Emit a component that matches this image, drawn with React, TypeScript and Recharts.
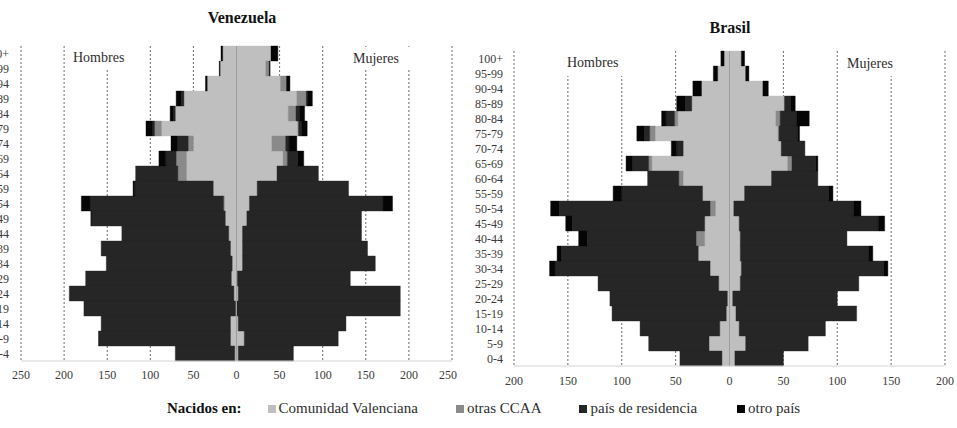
import React from 'react';
import { BarChart, Bar, XAxis, YAxis, CartesianGrid, ReferenceLine } from 'recharts';

// --- Pirámides de población: Venezuela y Brasil ---

const EDADES = ['100+', '95-99', '90-94', '85-89', '80-84', '75-79', '70-74', '65-69', '60-64', '55-59', '50-54',
  '45-49', '40-44', '35-39', '30-34', '25-29', '20-24', '15-19', '10-14', '5-9', '0-4'];

// Venezuela - hombres
const VE_H_CV = [16, 19, 34, 61, 71, 87, 50, 58, 58, 27, 14, 13, 9, 7, 5, 6, 3, 1, 7, 7, 2];
const VE_H_CCAA = [0, 0, 0, 0, 0, 8, 6, 12, 10, 0, 1, 0, 0, 0, 0, 0, 0, 0, 0, 0, 0];
const VE_H_RES = [0, 0, 0, 3, 2, 3, 13, 12, 49, 91, 155, 155, 124, 150, 146, 169, 191, 176, 150, 152, 69];
const VE_H_OTRO = [2, 1, 2, 6, 4, 7, 7, 8, 0, 2, 10, 1, 0, 0, 0, 0, 0, 0, 0, 1, 0];
// Venezuela - mujeres
const VE_M_CV = [40, 34, 51, 70, 60, 71, 41, 54, 47, 24, 15, 12, 7, 7, 7, 1, 2, 0, 2, 9, 2];
const VE_M_CCAA = [0, 4, 7, 11, 9, 1, 16, 5, 0, 0, 0, 0, 0, 0, 0, 0, 0, 0, 0, 0, 0];
const VE_M_RES = [0, 0, 0, 1, 4, 4, 4, 12, 48, 106, 155, 133, 138, 145, 154, 131, 188, 190, 125, 109, 64];
const VE_M_OTRO = [8, 1, 4, 6, 6, 6, 9, 7, 0, 0, 11, 0, 0, 0, 0, 0, 0, 0, 0, 0, 0];

// Brasil - hombres
const BR_H_CV = [5, 11, 26, 35, 48, 69, 43, 72, 43, 25, 13, 23, 23, 29, 18, 10, 2, 3, 9, 19, 7];
const BR_H_CCAA = [0, 0, 0, 0, 3, 5, 0, 3, 4, 0, 5, 0, 8, 0, 0, 0, 0, 0, 0, 0, 0];
const BR_H_RES = [0, 0, 0, 6, 8, 5, 6, 15, 29, 75, 140, 123, 101, 127, 144, 112, 109, 106, 74, 56, 39];
const BR_H_OTRO = [3, 4, 8, 8, 4, 7, 5, 6, 0, 8, 8, 6, 8, 4, 5, 0, 0, 0, 0, 0, 0];
// Brasil - mujeres
const BR_M_CV = [11, 15, 31, 51, 43, 45, 48, 54, 39, 14, 4, 9, 10, 10, 11, 10, 3, 6, 9, 15, 5];
const BR_M_CCAA = [0, 0, 0, 0, 4, 1, 0, 4, 0, 0, 0, 0, 0, 0, 0, 0, 0, 0, 0, 0, 0];
const BR_M_RES = [0, 0, 0, 6, 15, 17, 22, 22, 43, 78, 111, 129, 99, 119, 132, 110, 97, 112, 80, 58, 45];
const BR_M_OTRO = [3, 3, 5, 4, 12, 2, 0, 2, 0, 4, 7, 6, 0, 4, 4, 0, 0, 0, 0, 0, 0];

const TICKS_VE = [-250, -200, -150, -100, -50, 0, 50, 100, 150, 200, 250];
const TICKS_BR = [-200, -150, -100, -50, 0, 50, 100, 150, 200];

const COLORES = { cv: '#bfbfbf', ccaa: '#8a8a8a', res: '#262626', otro: '#050505' };
const SERIES = [
  { key: 'cv', nombre: 'Comunidad Valenciana' },
  { key: 'ccaa', nombre: 'otras CCAA' },
  { key: 'res', nombre: 'país de residencia' },
  { key: 'otro', nombre: 'otro país' },
];

const FUENTE = '"Liberation Serif", "Times New Roman", serif';

function armar(h: number[][], m: number[][]) {
  return EDADES.map((edad, i) => ({
    edad,
    h_cv: -h[0][i], h_ccaa: -h[1][i], h_res: -h[2][i], h_otro: -h[3][i],
    m_cv: m[0][i], m_ccaa: m[1][i], m_res: m[2][i], m_otro: m[3][i],
  }));
}

const datosVE = armar([VE_H_CV, VE_H_CCAA, VE_H_RES, VE_H_OTRO], [VE_M_CV, VE_M_CCAA, VE_M_RES, VE_M_OTRO]);
const datosBR = armar([BR_H_CV, BR_H_CCAA, BR_H_RES, BR_H_OTRO], [BR_M_CV, BR_M_CCAA, BR_M_RES, BR_M_OTRO]);

interface PropsPiramide {
  datos: any[]; ticks: number[]; width: number; height: number;
  margin: { top: number; right: number; left: number; bottom: number };
  anchoY: number; margenY: number; margenX: number;
}

function Piramide({ datos, ticks, width, height, margin, anchoY, margenY, margenX }: PropsPiramide) {
  const lim = ticks[ticks.length - 1];
  const color = (k: string) => COLORES[k as keyof typeof COLORES];
  return (
    <BarChart width={width} height={height} data={datos} layout="vertical" stackOffset="sign"
      barCategoryGap={0} margin={margin} style={{ fontFamily: FUENTE }}>
      <CartesianGrid horizontal={false} stroke="#6a6a6a" strokeDasharray="2 2" />
      <XAxis type="number" domain={[-lim, lim]} ticks={ticks} tickFormatter={(v: number) => String(Math.abs(v))}
        tickLine={false} tickSize={0} tickMargin={margenX} height={33}
        axisLine={{ stroke: '#d4d4d4' }} tick={{ fontSize: 12, fill: '#3a3a3a', fontFamily: FUENTE }} />
      <YAxis type="category" dataKey="edad" width={anchoY} axisLine={false} tickLine={false} tickSize={0}
        tickMargin={margenY} interval={0} tick={{ fontSize: 12, fill: '#3a3a3a', fontFamily: FUENTE }} />
      {SERIES.map(s => (
        <Bar key={'h' + s.key} dataKey={'h_' + s.key} stackId="p" fill={color(s.key)}
          stroke={color(s.key)} strokeWidth={0.4} isAnimationActive={false} />
      ))}
      {SERIES.map(s => (
        <Bar key={'m' + s.key} dataKey={'m_' + s.key} stackId="p" fill={color(s.key)}
          stroke={color(s.key)} strokeWidth={0.4} isAnimationActive={false} />
      ))}
      <ReferenceLine x={0} stroke="#9c9c9c" strokeWidth={1} />
    </BarChart>
  );
}

// caja blanca con texto que tapa las líneas de la rejilla
const etiqueta = (left: number, top: number, w: number, h: number, pad: number, texto: string) => (
  <div style={{
    position: 'absolute', left, top, width: w, height: h, background: '#fff', fontSize: 14,
    color: '#2e2e2e', display: 'flex', alignItems: 'center', paddingLeft: pad, boxSizing: 'border-box',
    fontFamily: FUENTE,
  }}>{texto}</div>
);

export default function App() {
  return (
    <div style={{
      position: 'absolute', left: 0, top: 0, width: 957, height: 428, overflow: 'hidden',
      background: '#fff', fontFamily: FUENTE,
    }}>
      <div style={{ position: 'absolute', left: -40, top: 0 }}>
        <Piramide datos={datosVE} ticks={TICKS_VE} width={497} height={394}
          margin={{ top: 46, right: 5, left: 0, bottom: 0 }} anchoY={61} margenY={12} margenX={9} />
      </div>
      <div style={{ position: 'absolute', left: 470, top: 0 }}>
        <Piramide datos={datosBR} ticks={TICKS_BR} width={487} height={399}
          margin={{ top: 51, right: 12, left: 0, bottom: 0 }} anchoY={44} margenY={11} margenX={10} />
      </div>

      <div style={{ position: 'absolute', left: 142, top: 9, width: 200, textAlign: 'center', fontWeight: 'bold', fontSize: 16, color: '#111' }}>Venezuela</div>
      <div style={{ position: 'absolute', left: 630, top: 19, width: 200, textAlign: 'center', fontWeight: 'bold', fontSize: 16, color: '#111' }}>Brasil</div>

      {etiqueta(68, 45, 72, 25, 5, 'Hombres')}
      {etiqueta(336, 47, 100, 23, 17, 'Mujeres')}
      {etiqueta(558, 50, 72, 26, 9, 'Hombres')}
      {etiqueta(843, 51, 92, 25, 4, 'Mujeres')}

      <div style={{ position: 'absolute', left: 167, top: 400, display: 'flex', alignItems: 'center', fontSize: 15, color: '#2e2e2e', whiteSpace: 'nowrap' }}>
        <span style={{ fontWeight: 'bold', color: '#111', marginRight: 26 }}>Nacidos en:</span>
        {SERIES.map((s, i) => (
          <span key={s.key} style={{ display: 'flex', alignItems: 'center', marginRight: i === 0 ? 38 : i === 1 ? 38 : 40 }}>
            <span style={{ width: 8, height: 8, background: COLORES[s.key as keyof typeof COLORES], marginRight: 3, display: 'inline-block' }} />
            {s.nombre}
          </span>
        ))}
      </div>
    </div>
  );
}
